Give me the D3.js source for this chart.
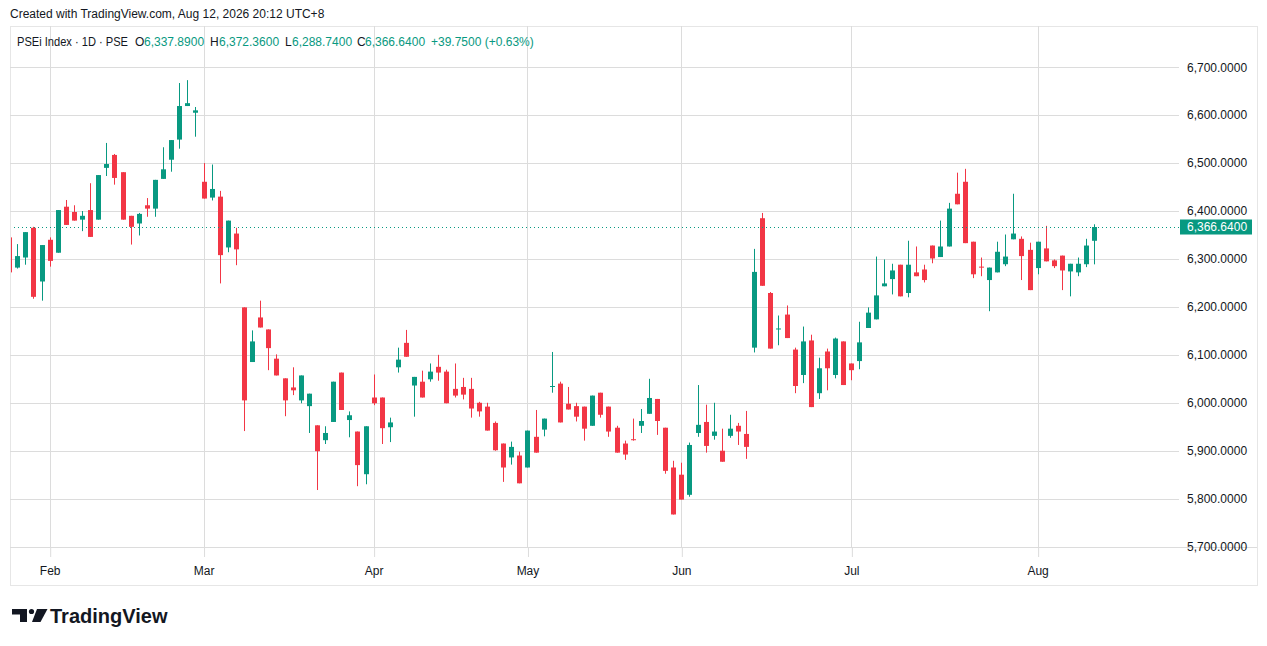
<!DOCTYPE html>
<html>
<head>
<meta charset="utf-8">
<script src="https://cdnjs.cloudflare.com/ajax/libs/d3/7.8.5/d3.min.js"></script>
<style>
  body { margin: 0; background: #fff; }
  text { font-family: "Liberation Sans", Arial, sans-serif; }
</style>
</head>
<body>
<script>
// daily candles, oldest first (index 0 is cut by the left edge)
var opens  = [6345,6282,6303,6365,6253,6340,6313,6409,6398,6382,6402,6382,6490,6517,6481,6390,6374,6412,6405,6467,6507,6549,6619,6605,
  6461,6428,6430,6324,6353,6199,6085,6178,6153,6092,6051,6032,6005,5993,5953,5922,5960,6063,5964,5940,5851,
  6011,6011,5949,6074,6125,6036,6044,6049,6075,6065,6029,6033,6029,6000,5992,5958,5915,5886,5890,
  5865,5929,5944,6034,6040,5998,5993,5992,5952,6021,5992,5948,5915,5924,5952,5977,6008,5948,5865,
  5850,5808,5937,5960,5931,5900,5931,5952,5935,6115,6385,6229,6154,6184,6111,6058,6130,6020,6107,6058,6128,
  6082,6087,6156,6174,6243,6258,6288,6229,6272,6278,6328,6304,6326,6436,6461,6336,6284,6256,6272,6289,6341,6342,6319,
  6281,6322,6297,6307,6274,6272,6289,6337.89];
var highs  = [6352,6331,6356,6367,6329,6345,6402,6423,6412,6400,6458,6475,6542,6519,6481,6390,6396,6427,6465,6533,6548,6667,6673,6617,
  6500,6497,6442,6380,6365,6199,6151,6213,6153,6101,6051,6074,6057,6019,5953,5951,6044,6063,5982,5940,5951,
  6059,6011,5969,6115,6152,6054,6067,6082,6100,6069,6082,6052,6052,6002,6000,5961,5915,5919,5898,
  5942,5985,5967,6106,6044,6033,6000,5992,6015,6021,5992,5952,5921,5967,5987,6050,6008,5948,5879,
  5875,5917,6037,5996,6000,5946,5975,5958,5983,6321,6396,6231,6182,6203,6115,6159,6142,6094,6113,6136,6128,
  6082,6169,6199,6305,6299,6290,6288,6338,6326,6288,6328,6380,6417,6480,6488,6336,6303,6282,6336,6351,6436,6347,6334,
  6336,6369,6299,6307,6290,6303,6342,6372.36];
var lows   = [6270,6280,6288,6217,6213,6284,6313,6371,6380,6358,6346,6382,6473,6455,6382,6330,6349,6388,6388,6467,6482,6530,6619,6555,
  6426,6422,6249,6314,6287,5941,6085,6157,6068,6057,5972,6016,5999,5937,5818,5914,5960,5985,5928,5826,5830,
  5995,5914,5918,6063,6096,5971,6011,6044,6046,5999,6011,6007,5969,5971,5942,5900,5835,5871,5832,
  5865,5896,5930,6021,5959,5986,5961,5921,5952,5969,5929,5896,5881,5921,5937,5977,5933,5852,5767,
  5798,5804,5929,5896,5923,5877,5927,5912,5883,6105,6244,6113,6120,6135,6020,6041,5991,6008,6026,6051,6037,
  6047,6070,6156,6174,6243,6226,6222,6220,6264,6251,6291,6304,6326,6414,6333,6260,6264,6191,6272,6285,6341,6256,6235,
  6268,6295,6281,6235,6222,6264,6283,6288.74];
var closes = [6272,6306,6356,6221,6329,6296,6402,6371,6380,6390,6346,6475,6498,6469,6382,6367,6394,6405,6465,6487,6548,6619,6625,6610,
  6426,6446,6308,6380,6320,6005,6128,6157,6114,6057,6005,6026,6057,6019,5899,5937,6044,5985,5974,5870,5951,
  5999,5947,5959,6090,6096,6054,6011,6065,6063,5999,6015,6017,5988,5982,5942,5901,5865,5908,5832,
  5942,5896,5967,6035,5959,5986,5971,5946,6015,5975,5940,5896,5892,5922,5962,6010,5962,5858,5767,
  5798,5912,5954,5910,5940,5877,5946,5940,5908,6273,6244,6113,6155,6135,6035,6128,5991,6072,6072,6134,6037,
  6068,6126,6188,6224,6249,6276,6222,6288,6264,6256,6301,6326,6405,6414,6333,6268,6283,6282,6315,6305,6353,6306,6235,
  6336,6295,6285,6276,6290,6290,6328,6366.64];

var monthLabels = ["Feb", "Mar", "Apr", "May", "Jun", "Jul", "Aug"];
var monthIdx    = [5, 24, 45, 64, 83, 104, 127];
var priceTicks  = [5700, 5800, 5900, 6000, 6100, 6200, 6300, 6400, 6500, 6600, 6700];

var W = 1267, H = 646;
var pane = { left: 10, right: 1179, top: 26, bottom: 547, axisRight: 1257, axisBottom: 585 };
var up = "#089981", down = "#F23645", ink = "#131722", grid = "#dcdcdc";

var svg = d3.select("body").append("svg")
  .attr("width", W)
  .attr("height", H);

var x = d3.scaleLinear().domain([0, 134]).range([9.2, 1094.3]);
var y = d3.scaleLinear().domain([5700, 6700]).range([546.6, 67.2]);

// frame
svg.append("rect")
  .attr("x", pane.left + 0.5).attr("y", pane.top + 0.5)
  .attr("width", pane.axisRight - pane.left).attr("height", pane.axisBottom - pane.top)
  .attr("fill", "none").attr("stroke", "#e6e6e6");

// grid
svg.append("g").selectAll("line").data(priceTicks).join("line")
  .attr("x1", pane.left).attr("x2", pane.right)
  .attr("y1", d => Math.round(y(d)) + 0.5).attr("y2", d => Math.round(y(d)) + 0.5)
  .attr("stroke", grid);

svg.append("g").selectAll("line").data(monthIdx).join("line")
  .attr("x1", d => Math.round(x(d)) + 0.5).attr("x2", d => Math.round(x(d)) + 0.5)
  .attr("y1", pane.top).attr("y2", pane.bottom)
  .attr("stroke", grid);

svg.append("line")
  .attr("x1", pane.left).attr("x2", pane.axisRight)
  .attr("y1", pane.bottom + 0.5).attr("y2", pane.bottom + 0.5)
  .attr("stroke", grid);

// time axis
var xAxis = svg.append("g")
  .attr("transform", "translate(0," + pane.bottom + ")")
  .call(d3.axisBottom(x).tickValues(monthIdx).tickSize(10).tickPadding(9)
    .tickFormat((d, i) => monthLabels[i]));
xAxis.select(".domain").remove();
xAxis.selectAll("line").attr("stroke", grid).attr("transform", "translate(0.5,0)");
xAxis.selectAll("text").attr("fill", ink).style("font-size", "12px");

// price axis
var yAxis = svg.append("g")
  .attr("transform", "translate(1181,0)")
  .call(d3.axisRight(y).tickValues(priceTicks).tickSize(0).tickPadding(6)
    .tickFormat(d3.format(",.4f")));
yAxis.select(".domain").remove();
yAxis.selectAll("text").attr("fill", ink).style("font-size", "12px");

// candles
svg.append("defs").append("clipPath").attr("id", "clip")
  .append("rect")
  .attr("x", pane.left + 1).attr("y", pane.top)
  .attr("width", pane.right - pane.left - 1).attr("height", pane.bottom - pane.top);

var plot = svg.append("g").attr("clip-path", "url(#clip)");
var idx = d3.range(closes.length);
var col = i => closes[i] >= opens[i] ? up : down;

plot.append("g").selectAll("line").data(idx).join("line")
  .attr("x1", i => Math.round(x(i)) + 0.5).attr("x2", i => Math.round(x(i)) + 0.5)
  .attr("y1", i => y(highs[i])).attr("y2", i => y(lows[i]))
  .attr("stroke", col);

plot.append("g").selectAll("rect").data(idx).join("rect")
  .attr("x", i => Math.round(x(i)) - 2)
  .attr("width", 5)
  .attr("y", i => y(Math.max(opens[i], closes[i])))
  .attr("height", i => Math.max(1, Math.abs(y(opens[i]) - y(closes[i]))))
  .attr("fill", col);

// last price line
var last = closes[closes.length - 1];
plot.append("line")
  .attr("x1", pane.left).attr("x2", pane.right)
  .attr("y1", Math.round(y(last)) + 0.5).attr("y2", Math.round(y(last)) + 0.5)
  .attr("stroke", up).attr("stroke-dasharray", "1,3");

svg.append("rect")
  .attr("x", 1180).attr("y", y(last) - 7.5)
  .attr("width", 72).attr("height", 15)
  .attr("fill", up);
svg.append("text")
  .attr("x", 1187).attr("y", y(last))
  .attr("dy", "0.35em")
  .attr("fill", "#fff")
  .style("font-size", "12px")
  .text(d3.format(",.4f")(last));

// header
svg.append("text")
  .attr("x", 10).attr("y", 18)
  .attr("fill", ink)
  .style("font-size", "12px")
  .text("Created with TradingView.com, Aug 12, 2026 20:12 UTC+8");

var f4 = d3.format(",.4f");
var legendParts = [
  { x: 17,  c: ink, t: "PSEi Index \u00b7 1D \u00b7 PSE", w: 111 },
  { x: 135, c: ink, t: "O" },
  { x: 144, c: up,  t: f4(opens[134]) },
  { x: 210, c: ink, t: "H" },
  { x: 219, c: up,  t: f4(highs[134]) },
  { x: 285, c: ink, t: "L" },
  { x: 292, c: up,  t: f4(lows[134]) },
  { x: 357, c: ink, t: "C" },
  { x: 365, c: up,  t: f4(last) },
  { x: 431, c: up,  t: "+39.7500 (+0.63%)" }
];
svg.append("g").selectAll("text").data(legendParts).join("text")
  .attr("x", d => d.x).attr("y", 46)
  .attr("fill", d => d.c)
  .style("font-size", "12px")
  .attr("textLength", d => d.w || null)
  .attr("lengthAdjust", d => d.w ? "spacingAndGlyphs" : null)
  .text(d => d.t);

// logo
var logo = svg.append("g").attr("fill", ink);
logo.append("path").attr("d", "M12,609 H27 V622 H20 V614.5 H12 Z");
logo.append("circle").attr("cx", 31.5).attr("cy", 611.5).attr("r", 2.6);
logo.append("path").attr("d", "M37,609 H47.5 L40.5,622 H32 Z");
svg.append("text")
  .attr("x", 50).attr("y", 623)
  .attr("fill", ink)
  .style("font-size", "20px").style("font-weight", "bold")
  .text("TradingView");
</script>
</body>
</html>
